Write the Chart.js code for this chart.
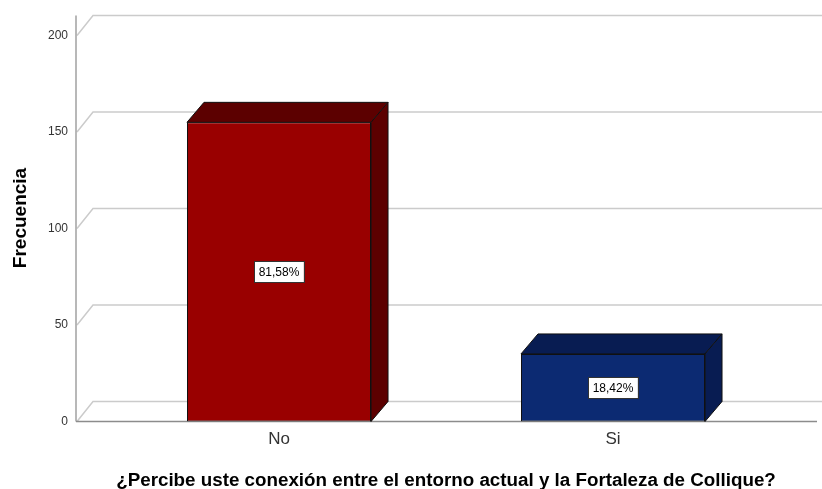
<!DOCTYPE html>
<html>
<head>
<meta charset="utf-8">
<script src="https://cdn.jsdelivr.net/npm/chart.js@4.4.1/dist/chart.umd.min.js"></script>
<style>
  body { margin: 0; background: #fff; }
  #wrap { width: 822px; height: 489px; }
</style>
</head>
<body>
<div id="wrap"><canvas id="grafico" width="822" height="489"></canvas></div>
<script>
const categorias = ['No', 'Si'];
const frecuencias = [155, 35];
const marcasY = [0, 50, 100, 150, 200];

const DX = 17, DY = -20; // profundidad del efecto 3D
const total = frecuencias.reduce((a, b) => a + b, 0);
const caras = ['#5c0000', '#081c52']; // tapa y lateral

const efecto3d = {
  id: 'efecto3d',
  beforeDatasetsDraw(chart) {
    const c = chart.ctx, y = chart.scales.y, area = chart.chartArea;
    const x0 = area.left - 36, x1 = area.right + 37;
    c.save();
    c.strokeStyle = '#cbcbcb';
    c.lineWidth = 1.5;
    marcasY.forEach(v => {
      const py = y.getPixelForValue(v);
      c.beginPath();
      c.moveTo(x0 + 1, py);
      c.lineTo(x0 + DX, py + DY);
      c.lineTo(x1 + DX, py + DY);
      c.stroke();
    });
    // ejes del plano frontal
    c.strokeStyle = '#a0a0a0';
    c.beginPath();
    c.moveTo(x0, y.getPixelForValue(200) + DY);
    c.lineTo(x0, y.getPixelForValue(0));
    c.stroke();
    c.strokeStyle = '#8c8c8c';
    c.beginPath();
    c.moveTo(x0, y.getPixelForValue(0));
    c.lineTo(x1, y.getPixelForValue(0));
    c.stroke();

    // titulo del eje Y
    c.fillStyle = '#000';
    c.font = 'bold 19px "Liberation Sans", Arial, sans-serif';
    c.textAlign = 'center';
    c.textBaseline = 'middle';
    c.translate(21, 218);
    c.rotate(-Math.PI / 2);
    c.fillText('Frecuencia', 0, 0);
    c.restore();
  },
  afterDatasetsDraw(chart) {
    const c = chart.ctx;
    const barras = chart.getDatasetMeta(0).data;
    c.save();
    barras.forEach((b, i) => {
      const l = b.x - b.width / 2, r = b.x + b.width / 2, t = b.y, bot = b.base;
      c.fillStyle = caras[i];
      c.strokeStyle = '#111';
      c.lineWidth = 1;
      // tapa
      c.beginPath();
      c.moveTo(l, t);
      c.lineTo(l + DX, t + DY);
      c.lineTo(r + DX, t + DY);
      c.lineTo(r, t);
      c.closePath();
      c.fill(); c.stroke();
      // lateral
      c.beginPath();
      c.moveTo(r, t);
      c.lineTo(r + DX, t + DY);
      c.lineTo(r + DX, bot + DY);
      c.lineTo(r, bot);
      c.closePath();
      c.fill(); c.stroke();

      // etiqueta de porcentaje
      const txt = (frecuencias[i] / total * 100).toFixed(2).replace('.', ',') + '%';
      c.font = '12px "Liberation Sans", Arial, sans-serif';
      const w = c.measureText(txt).width + 9, h = 21;
      const cx = b.x, cy = (t + bot) / 2;
      c.fillStyle = '#fff';
      c.fillRect(cx - w / 2, cy - h / 2, w, h);
      c.strokeStyle = '#333';
      c.strokeRect(Math.round(cx - w / 2) + 0.5, Math.round(cy - h / 2) + 0.5, Math.round(w), h);
      c.fillStyle = '#000';
      c.textAlign = 'center';
      c.textBaseline = 'middle';
      c.fillText(txt, cx, cy + 1);
    });
    c.restore();
  }
};

new Chart(document.getElementById('grafico'), {
  type: 'bar',
  data: {
    labels: categorias,
    datasets: [{
      data: frecuencias,
      backgroundColor: ['#990000', '#0c2a72'],
      borderColor: '#111',
      borderWidth: 1,
      borderSkipped: false,
      barPercentage: 0.551,
      categoryPercentage: 1
    }]
  },
  options: {
    responsive: false,
    animation: false,
    layout: { padding: { top: 35.5, right: 42, bottom: 0, left: 0 } },
    plugins: { legend: { display: false }, tooltip: { enabled: false } },
    scales: {
      x: {
        grid: { display: false, drawTicks: false },
        border: { display: false },
        ticks: { color: '#333', padding: 8, font: { family: '"Liberation Sans", Arial, sans-serif', size: 17 } },
        title: {
          display: true,
          text: '¿Percibe uste conexión entre el entorno actual y la Fortaleza de Collique?',
          color: '#000',
          font: { family: '"Liberation Sans", Arial, sans-serif', size: 18.8, weight: 'bold' },
          padding: { top: 0, bottom: -3 }
        },
        afterFit(s) { s.height = 67.5; }
      },
      y: {
        min: 0,
        max: 200,
        grid: { display: false, drawTicks: false },
        border: { display: false },
        ticks: { stepSize: 50, color: '#333', padding: 44, font: { family: '"Liberation Sans", Arial, sans-serif', size: 12 } },
        afterFit(s) {
          s.width = 112;
          s.paddingTop = 0;
          s.paddingBottom = 0;
        }
      }
    }
  },
  plugins: [efecto3d]
});
</script>
</body>
</html>
